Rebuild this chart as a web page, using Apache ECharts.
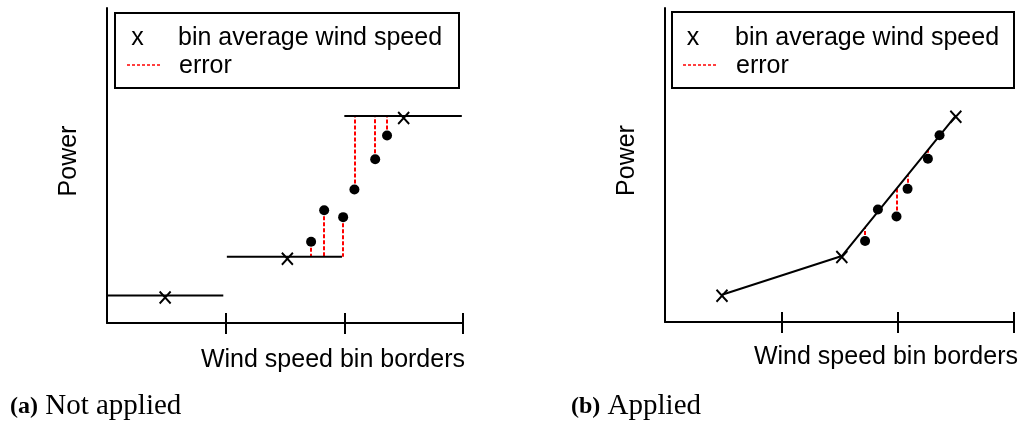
<!DOCTYPE html>
<html>
<head>
<meta charset="utf-8">
<script src="https://cdn.jsdelivr.net/npm/echarts@6/dist/echarts.min.js"></script>
<style>
  html, body { margin: 0; padding: 0; background: #fff; }
  #chart { width: 1021px; height: 423px; }
</style>
</head>
<body>
<div id="chart"></div>
<script>
// ---- data (x in wind-speed-bin units, y in arbitrary power units) ----
const binBorders = [1, 2, 3];
const binStart = [0.0, 1.01, 2.0];
const binEnd = [0.98, 1.98, 2.99];
const binAvgX = [0.49, 1.52, 2.50];
const binAvgP = [0.87, 2.10, 6.57];
const sampleX = [1.72, 1.83, 1.99, 2.085, 2.26, 2.36];
const sampleP = [2.58, 3.58, 3.36, 4.24, 5.20, 5.95];
const legendLabels = ['bin average wind speed', 'error'];
const xAxisTitle = 'Wind speed bin borders';
const yAxisTitle = 'Power';
const captions = [['(a)', 'Not applied'], ['(b)', 'Applied']];

const SANS = 'Liberation Sans, Arial, Helvetica, sans-serif';
const SERIF = 'Liberation Serif, Times New Roman, serif';
const CROSS = 'path://M0,0L10,11M10,0L0,11';

function interpLine(x) {
  for (let i = 0; i < binAvgX.length - 1; i++) {
    if (x >= binAvgX[i] && x <= binAvgX[i + 1]) {
      const t = (x - binAvgX[i]) / (binAvgX[i + 1] - binAvgX[i]);
      return binAvgP[i] + t * (binAvgP[i + 1] - binAvgP[i]);
    }
  }
  return null;
}
function binOf(x) { return Math.min(Math.floor(x), binAvgP.length - 1); }

const grids = [
  { left: 107, top: 8, width: 356, height: 315 },
  { left: 665, top: 8, width: 351, height: 314 }
];

const LW = 2;
const xAxes = [];
const yAxes = [];
const namePad = [[25, 0, 0, 0], [23, 0, 0, 0]];
const nameGapX = [2, 4];
[0, 1].forEach(g => {
  xAxes.push({
    type: 'value', gridIndex: g, min: 0, max: 3, interval: 1, position: 'bottom',
    axisLine: { show: true, lineStyle: { color: '#000', width: LW } },
    axisTick: { show: true, length: 11, customValues: binBorders, lineStyle: { color: '#000', width: LW } },
    axisLabel: { show: false }, splitLine: { show: false },
    name: xAxisTitle, nameLocation: 'end', nameGap: nameGapX[g],
    nameTextStyle: { fontFamily: SANS, fontSize: 25, color: '#000', align: 'right', verticalAlign: 'top', padding: namePad[g] }
  });
  xAxes.push({
    type: 'value', gridIndex: g, min: 0, max: 3, interval: 1, position: 'bottom',
    axisLine: { show: false },
    axisTick: { show: true, inside: true, length: 10, customValues: binBorders, lineStyle: { color: '#000', width: LW } },
    axisLabel: { show: false }, splitLine: { show: false }
  });
  yAxes.push({
    type: 'value', gridIndex: g, min: 0, max: 10,
    axisLine: { show: true, lineStyle: { color: '#000', width: LW } },
    axisTick: { show: false }, axisLabel: { show: false }, splitLine: { show: false },
    name: yAxisTitle, nameLocation: 'middle', nameRotate: 90, nameGap: 25,
    nameTextStyle: { fontFamily: SANS, fontSize: 25, color: '#000', padding: [0, 0, 0, 9] }
  });
});

const dotStyle = { color: '#000', opacity: 1 };
const crossStyle = { color: 'rgba(0,0,0,0)', borderColor: '#000', borderWidth: LW, opacity: 1 };
const errStyle = { color: '#ff0000', width: LW, type: [4, 2], opacity: 1 };

const series = [];
// ---- panel (a): step (bin-average) levels ----
binAvgP.forEach((p, i) => {
  series.push({
    type: 'line', xAxisIndex: 0, yAxisIndex: 0, symbol: 'none', silent: true,
    lineStyle: { color: '#000', width: LW },
    data: [[binStart[i], p], [binEnd[i], p]]
  });
});
series.push({
  type: 'lines', coordinateSystem: 'cartesian2d', xAxisIndex: 0, yAxisIndex: 0, silent: true,
  lineStyle: errStyle,
  data: sampleX.map((x, i) => ({ coords: [[x, sampleP[i]], [x, binAvgP[binOf(x)]]] }))
});
series.push({
  type: 'scatter', xAxisIndex: 0, yAxisIndex: 0, symbol: 'circle', symbolSize: 10,
  itemStyle: dotStyle, data: sampleX.map((x, i) => [x, sampleP[i]])
});
series.push({
  type: 'scatter', xAxisIndex: 0, yAxisIndex: 0, symbol: CROSS, symbolSize: [11, 12], symbolOffset: [0, 2],
  itemStyle: crossStyle,
  data: binAvgX.map((x, i) => [x, binAvgP[i]])
});
// ---- panel (b): linear interpolation between bin averages ----
series.push({
  type: 'line', xAxisIndex: 2, yAxisIndex: 1, symbol: 'none', silent: true,
  lineStyle: { color: '#000', width: LW },
  data: binAvgX.map((x, i) => [x, binAvgP[i]])
});
series.push({
  type: 'lines', coordinateSystem: 'cartesian2d', xAxisIndex: 2, yAxisIndex: 1, silent: true,
  lineStyle: errStyle,
  data: sampleX.map((x, i) => ({ coords: [[x, sampleP[i]], [x, interpLine(x)]] }))
});
series.push({
  type: 'scatter', xAxisIndex: 2, yAxisIndex: 1, symbol: 'circle', symbolSize: 10,
  itemStyle: dotStyle, data: sampleX.map((x, i) => [x, sampleP[i]])
});
series.push({
  type: 'scatter', xAxisIndex: 2, yAxisIndex: 1, symbol: CROSS, symbolSize: [11, 12], symbolOffset: [0, 1],
  itemStyle: crossStyle,
  data: binAvgX.map((x, i) => [x, binAvgP[i]])
});

// ---- legend boxes ----
function legendBox(left, top, w, h, xMark, xText, lineX0, lineX1) {
  return {
    type: 'group', children: [
      { type: 'rect', shape: { x: left, y: top, width: w, height: h },
        style: { fill: '#fff', stroke: '#000', lineWidth: LW } },
      { type: 'text', x: xMark, y: 38,
        style: { text: 'x', fontFamily: SANS, fontSize: 25, fill: '#000', align: 'center', verticalAlign: 'middle' } },
      { type: 'text', x: xText, y: 38,
        style: { text: legendLabels[0], fontFamily: SANS, fontSize: 25, fill: '#000', align: 'left', verticalAlign: 'middle' } },
      { type: 'line', shape: { x1: lineX0, y1: 65, x2: lineX1, y2: 65 },
        style: { stroke: '#ff0000', lineWidth: 1.5, lineDash: [3, 2] } },
      { type: 'text', x: xText + 1, y: 66,
        style: { text: legendLabels[1], fontFamily: SANS, fontSize: 25, fill: '#000', align: 'left', verticalAlign: 'middle' } }
    ]
  };
}

const chart = echarts.init(document.getElementById('chart'), null, { renderer: 'canvas' });
chart.setOption({
  backgroundColor: '#fff',
  animation: false,
  title: captions.map((c, i) => ({
    text: '{b|' + c[0] + '} ' + c[1],
    left: i === 0 ? 5 : 566, top: 387,
    textStyle: {
      fontFamily: SERIF, fontSize: 29, fontWeight: 'normal', color: '#000',
      rich: { b: { fontFamily: SERIF, fontSize: 24, fontWeight: 'bold', color: '#000' } }
    }
  })),
  grid: grids,
  xAxis: xAxes,
  yAxis: yAxes,
  series: series,
  graphic: [
    legendBox(115, 13, 344, 75, 137.5, 178, 127, 162),
    legendBox(672, 12, 342, 76, 693, 735, 683, 718)
  ]
});
</script>
</body>
</html>
